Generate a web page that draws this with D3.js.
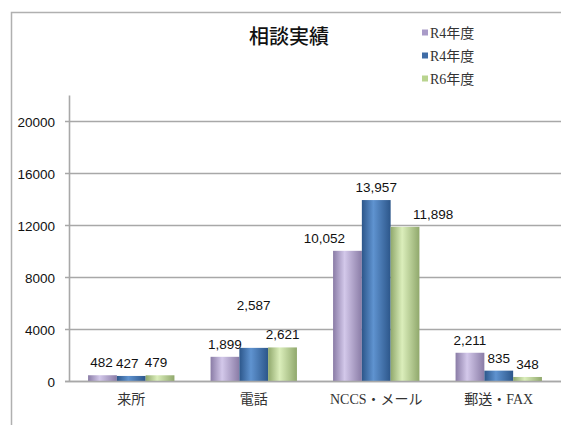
<!DOCTYPE html>
<html><head><meta charset="utf-8">
<script src="https://cdn.jsdelivr.net/npm/d3@7"></script>
<style>
html,body{margin:0;padding:0;background:#fff;}
svg{display:block;}
</style></head>
<body>
<svg id="chart" width="561" height="425"></svg>
<script>
const categories = ["来所", "電話", "NCCS・メール", "郵送・FAX"];
const seriesNames = ["R4年度", "R4年度", "R6年度"];
const seriesA = [482, 1899, 10052, 2211];
const seriesB = [427, 2587, 13957, 835];
const seriesC = [479, 2621, 11898, 348];
const yTicks = [0, 4000, 8000, 12000, 16000, 20000];

const series = [seriesA, seriesB, seriesC];
const colors = [
  {edge:"#8a7ca6", mid:"#d3c8ea", legend:"#a99bc8"},
  {edge:"#2c568a", mid:"#5f93d0", legend:"#3f6ca6"},
  {edge:"#90a86c", mid:"#dbeebb", legend:"#b9d48f"}
];
// manual label nudges (style), [series][category] -> [dx, dy]
const labelNudge = [
  [[-1,0],[0,0],[-23,0],[0,0]],
  [[-4,0],[0,-30],[0,0],[0,0]],
  [[-4,0],[0,0],[28,0],[0,0]]
];

const svg = d3.select("#chart");
const defs = svg.append("defs");
colors.forEach((c,i)=>{
  const g = defs.append("linearGradient").attr("id","g"+i).attr("x1","0%").attr("x2","100%").attr("y1","0%").attr("y2","0%");
  g.append("stop").attr("offset","0%").attr("stop-color",c.edge);
  g.append("stop").attr("offset","40%").attr("stop-color",c.mid);
  g.append("stop").attr("offset","100%").attr("stop-color",c.edge);
});

// outer frame
svg.append("path").attr("d","M11.5,425 L11.5,12.5 L561,12.5").attr("fill","none").attr("stroke","#b0b0b0").attr("stroke-width",1.5);

const y = d3.scaleLinear().domain([0,20000]).range([381.5,121.5]);
const x = d3.scaleBand().domain(categories).range([70,560]).paddingInner(0.295).paddingOuter(0.1475);
const xs = d3.scaleBand().domain([0,1,2]).range([0,x.bandwidth()]).padding(0);

// gridlines
svg.append("g").selectAll("line").data(yTicks).join("line")
  .attr("x1",65).attr("x2",561)
  .attr("y1",d=>y(d)).attr("y2",d=>y(d))
  .attr("stroke","#a8a8a8").attr("stroke-width",1.6);
// y axis line
svg.append("line").attr("x1",69.5).attr("x2",69.5).attr("y1",y(22000)).attr("y2",y(0))
  .attr("stroke","#a8a8a8").attr("stroke-width",1.6);
// tick labels
svg.append("g").selectAll("text").data(yTicks).join("text")
  .attr("x",55).attr("y",d=>y(d)+5).attr("text-anchor","end")
  .attr("font-family","'Liberation Sans', Arial, sans-serif").attr("font-size",13.5).attr("fill","#111")
  .text(d=>d);

// bars
series.forEach((s,si)=>{
  svg.append("g").selectAll("rect").data(s).join("rect")
    .attr("x",(d,ci)=>x(categories[ci])+xs(si))
    .attr("width",xs.bandwidth())
    .attr("y",d=>y(d))
    .attr("height",d=>y(0)-y(d))
    .attr("fill","url(#g"+si+")");
});
// baseline over bars
svg.append("line").attr("x1",65).attr("x2",561).attr("y1",y(0)).attr("y2",y(0)).attr("stroke","#a8a8a8").attr("stroke-width",1.6);

// labels
const fmt = d3.format(",");
series.forEach((s,si)=>{
  svg.append("g").selectAll("text").data(s).join("text")
    .attr("x",(d,ci)=>x(categories[ci])+xs(si)+xs.bandwidth()/2+labelNudge[si][ci][0])
    .attr("y",(d,ci)=>y(d)-8+labelNudge[si][ci][1])
    .attr("text-anchor","middle")
    .attr("font-family","'Liberation Sans', Arial, sans-serif").attr("font-size",13.5).attr("fill","#111")
    .text(d=>fmt(d));
});

// category labels
svg.append("g").selectAll("text").data(categories).join("text")
  .attr("x",d=>x(d)+x.bandwidth()/2).attr("y",404)
  .attr("text-anchor","middle")
  .attr("font-family","'Liberation Serif', 'Noto Sans CJK JP', serif").attr("font-size",14).attr("fill","#333")
  .text(d=>d);

// title
svg.append("text").attr("x",289).attr("y",44).attr("text-anchor","middle")
  .attr("font-family","'Noto Sans CJK JP', sans-serif").attr("font-size",20).attr("font-weight",500).attr("fill","#111")
  .text("相談実績");

// legend
const lg = svg.append("g").selectAll("g").data(seriesNames).join("g")
  .attr("transform",(d,i)=>`translate(422,${33+i*23})`);
lg.append("rect").attr("x",0).attr("y",-3.5).attr("width",6).attr("height",6).attr("fill",(d,i)=>colors[i].legend);
lg.append("text").attr("x",8).attr("y",5).attr("font-family","'Liberation Serif', 'Noto Sans CJK JP', serif")
  .attr("font-size",14).attr("fill","#333").text(d=>d);
</script>
</body></html>
